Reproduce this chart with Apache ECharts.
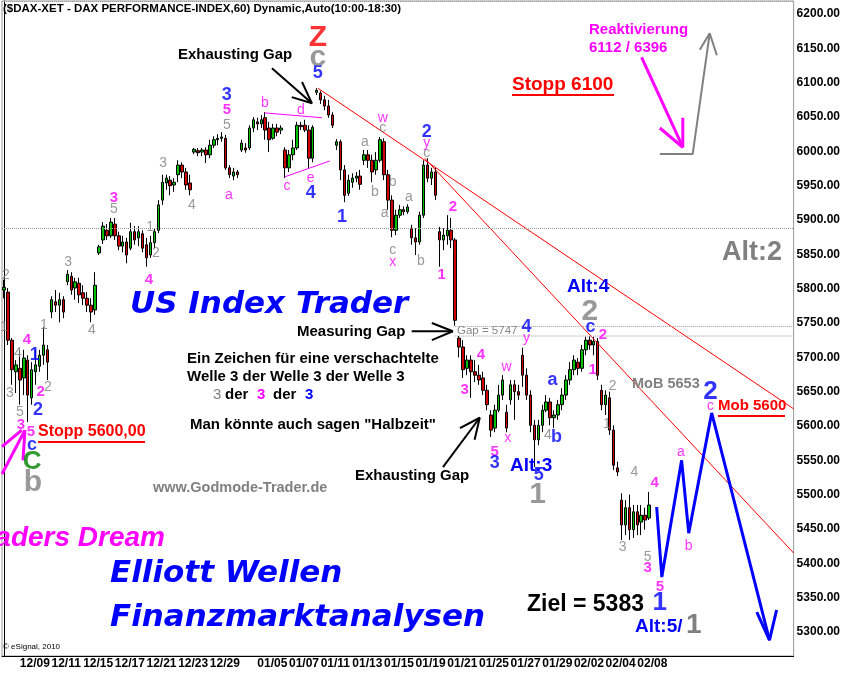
<!DOCTYPE html>
<html>
<head>
<meta charset="utf-8">
<script src="https://cdn.jsdelivr.net/npm/echarts@6/dist/echarts.min.js"></script>
<style>
html, body { margin: 0; padding: 0; background: #fff; }
#chart { width: 843px; height: 673px; }
</style>
</head>
<body>
<div id="chart"></div>
<script>
// trading days shown on the hourly chart (4 bars per day here)
var days = ['12/08','12/09','12/10','12/11','12/14','12/15','12/16','12/17','12/18','12/21','12/22','12/23','12/28','12/29','12/30',
  '01/04','01/05','01/06','01/07','01/08','01/11','01/12','01/13','01/14','01/15','01/18','01/19','01/20','01/21','01/22',
  '01/25','01/26','01/27','01/28','01/29','02/01','02/02','02/03','02/04','02/05','02/08'];
var dateLabels = ['12/09','12/11','12/15','12/17','12/21','12/23','12/29','01/05','01/07','01/11','01/13','01/15',
  '01/19','01/21','01/25','01/27','01/29','02/02','02/04','02/08'];
var yTicks = [5300,5350,5400,5450,5500,5550,5600,5650,5700,5750,5800,5850,5900,5950,6000,6050,6100,6150,6200];
var lastPrice = 5484.85;

// [open, close, low, high]
var bars = [
[5798,5802,5786,5813],[5795,5725,5718,5801],[5725,5682,5660,5728],[5679,5689,5648,5696],
[5684,5667,5631,5711],[5670,5699,5645,5711],[5696,5645,5606,5703],[5641,5682,5631,5693],
[5679,5689,5660,5711],[5687,5703,5679,5711],[5703,5718,5689,5744],[5711,5693,5667,5718],
[5766,5784,5757,5789],[5781,5776,5766,5798],[5776,5784,5751,5794],[5784,5766,5757,5789],
[5810,5821,5805,5827],[5818,5798,5791,5824],[5801,5810,5784,5816],[5808,5791,5779,5816],
[5794,5786,5776,5805],[5786,5776,5766,5795],[5776,5766,5751,5786],[5769,5805,5762,5824],
[5852,5861,5849,5864],[5871,5891,5865,5897],[5885,5877,5871,5894],[5877,5897,5874,5903],
[5894,5877,5871,5903],[5877,5862,5856,5883],[5862,5868,5853,5877],[5868,5849,5837,5874],
[5859,5883,5856,5896],[5883,5871,5864,5891],[5874,5883,5862,5891],[5880,5859,5853,5885],
[5864,5845,5832,5874],[5849,5867,5845,5877],[5867,5883,5859,5888],[5885,5922,5881,5929],
[5929,5955,5922,5966],[5954,5961,5944,5966],[5958,5950,5936,5964],[5951,5955,5941,5961],
[5966,5980,5955,5987],[5980,5970,5961,5984],[5970,5951,5944,5976],[5954,5944,5936,5966],
[5999,6003,5996,6005],[6001,5998,5993,6005],[5999,6002,5993,6005],[6002,5995,5983,6006],
[5995,6009,5990,6017],[6009,6017,6005,6022],[6017,6019,6009,6025],[6019,6021,6014,6028],
[6019,5976,5973,6024],[5976,5966,5961,5980],[5964,5970,5958,5976],[5970,5966,5961,5973],
[6002,6012,5999,6017],[6005,6002,5998,6012],[6005,6034,6002,6038],[6034,6046,6028,6050],
[6043,6040,6031,6049],[6040,6046,6034,6053],[6049,6031,6017,6057],[6034,6017,5999,6043],
[6019,6034,6017,6040],[6034,6028,6022,6040],[6031,6034,6025,6038],[6002,5976,5961,6006],
[5976,5995,5970,6002],[5995,6005,5987,6017],[6005,6038,6002,6043],[6038,6036,6031,6043],
[6038,6031,6028,6046],[6031,5990,5976,6038],[5990,6035,5984,6038],[6086,6089,6082,6092],
[6085,6075,6069,6088],[6075,6066,6060,6081],[6066,6053,6049,6075],[6053,6038,6034,6057],
[6009,6014,6002,6018],[6014,5973,5958,6017],[5973,5936,5926,5980],[5939,5958,5935,5966],
[5955,5961,5947,5968],[5961,5964,5955,5970],[5964,5952,5944,5973],[5987,5995,5980,6002],
[5995,5987,5976,6002],[5987,5970,5955,5995],[5973,5987,5966,5999],[5987,6017,5984,6021],
[6014,5966,5958,6019],[5966,5929,5915,5973],[5929,5885,5875,5936],[5885,5907,5878,5915],
[5907,5915,5903,5922],[5915,5912,5907,5920],[5912,5919,5909,5923],[5888,5874,5864,5893],
[5874,5868,5849,5888],[5868,5907,5864,5912],[5907,5980,5903,5987],[5980,5961,5955,5990],
[5961,5970,5951,5976],[5970,5936,5929,5976],[5883,5871,5832,5890],[5871,5878,5856,5888],
[5877,5885,5864,5907],[5885,5871,5859,5903],[5871,5754,5746,5874],[5728,5715,5700,5731],
[5715,5682,5670,5725],[5684,5696,5674,5703],[5696,5679,5641,5703],[5679,5674,5664,5696],
[5674,5667,5660,5689],[5670,5652,5645,5679],[5652,5631,5623,5660],[5616,5594,5584,5623],
[5597,5623,5591,5631],[5623,5645,5620,5660],[5645,5667,5638,5674],[5620,5597,5591,5631],
[5638,5660,5631,5667],[5660,5650,5609,5667],[5650,5645,5638,5660],[5703,5674,5657,5714],
[5674,5645,5638,5684],[5645,5601,5591,5652],[5601,5580,5540,5609],[5580,5601,5572,5609],
[5601,5623,5591,5631],[5623,5635,5620,5645],[5635,5612,5601,5641],[5612,5616,5597,5623],
[5616,5631,5609,5638],[5631,5645,5623,5655],[5645,5667,5638,5674],[5667,5682,5660,5693],
[5682,5696,5674,5703],[5693,5684,5674,5699],[5684,5711,5679,5718],[5711,5725,5703,5730],
[5725,5718,5711,5731],[5718,5723,5703,5730],[5723,5674,5667,5728],[5652,5631,5623,5660],
[5631,5645,5616,5652],[5641,5594,5587,5650],[5594,5543,5536,5601],[5539,5533,5527,5548],
[5492,5456,5434,5502],[5456,5481,5441,5492],[5481,5449,5434,5500],[5449,5475,5437,5485],
[5475,5456,5441,5485],[5460,5470,5441,5485],[5470,5463,5449,5481],[5466,5484.85,5463,5504]
];

// wave labels: [bar index, price, text]
var grayLabels = [[0.5,5820,'2'],[0,5744,'1'],[1.5,5648,'3'],[3.5,5706,'4'],[4,5620,'5'],[10.1,5747,'1'],
  [11.1,5657,'2'],[16.2,5839,'3'],[22.2,5740,'4'],[27.8,5916,'5'],[36.9,5890,'1'],[38.4,5852,'2'],
  [40.2,5983,'3'],[47.5,5922,'4'],[56.3,6038,'5'],[91.2,6014,'a'],[93.7,5941,'b'],[95.7,6034,'c'],
  [98.2,5955,'b'],[96.2,5910,'a'],[98.2,5856,'c'],[102.3,5933,'a'],[105.3,5840,'b'],[106.8,5998,'c'],
  [137.4,5587,'4'],[153.8,5658,'2'],[152.3,5603,'1'],[159.3,5533,'4'],[156.3,5424,'3'],[162.6,5409,'5']];
var magentaDigits = [[5.8,5725,'4'],[4.3,5601,'3'],[6.8,5591,'5'],[9.3,5650,'2'],[27.8,5933,'3'],
  [36.6,5813,'4'],[56.3,6060,'5'],[113.4,5919,'2'],[110.6,5820,'1'],[116.4,5652,'3'],[120.5,5703,'4'],
  [124,5562,'5'],[148.7,5682,'1'],[151.3,5733,'2'],[164.4,5517,'4'],[162.6,5393,'3'],[165.7,5366,'5']];
var magentaLetters = [[56.8,5936,'a'],[65.9,6070,'b'],[71.5,5950,'c'],[75,6060,'d'],[77.5,5961,'e'],
  [95.7,6049,'w'],[106.8,6012,'y'],[98.2,5839,'x'],[127,5686,'w'],[127.3,5583,'x'],[132,5728,'y'],
  [171,5562,'a'],[173,5425,'b'],[178.5,5629,'c']];
var blueLabels = [[7.8,5703,'1'],[8.6,5623,'2'],[7.1,5572,'c'],[56.3,6082,'3'],[79.3,6114,'5'],
  [77.5,5939,'4'],[85.4,5904,'1'],[106.8,6028,'2'],[124,5546,'3'],[132,5744,'4'],[135.1,5529,'5'],
  [138.6,5667,'a'],[139.6,5584,'b'],[148.2,5744,'c']];
var blueBig = [[178.5,5650,'2'],[165.7,5342,'1']];
var grayBig = [[79.3,6137,'c'],[7.3,5517,'b'],[148,5766,'2'],[134.8,5500,'1']];
var redBig = [[79.3,6165,'Z']];
var greenBig = [[7.1,5548,'C']];

// drawn lines: [bar index, price]
var trendA = [[79.3,6092],[199.5,5625]];
var trendB = [[106.3,5990],[199.5,5415]];
var triUpper = [[65.9,6056],[80.3,6049]];
var triLower = [[71,5963],[82.3,5986]];
var gapTop = [[113.9,5745],[199.5,5745]];
var gapBottom = [[113.9,5731],[199.5,5731]];
var projection = [[164.9,5482],[166.2,5380],[171.2,5550],[173,5444],[178.8,5619],[193.4,5288]];
var projHead = [[190.2,5329],[193.4,5288],[195.2,5332]];
var arrowTop = [[67.7,6121],[77.8,6070]];
var arrowTopHead = [[75.3,6101],[77.8,6070],[72.7,6079]];
var arrowMid = [[103,5738],[113.4,5738]];
var arrowMidHead = [[108.1,5750],[113.4,5738],[108.1,5725]];
var arrowLow = [[110.9,5540],[120.2,5612]];
var arrowLowHead = [[115.2,5597],[120.2,5612],[118.9,5580]];
var pinkLeft1 = [[-0.5,5570],[4.5,5594]];
var pinkLeft2 = [[-0.5,5530],[5.3,5594]];
var pinkLeft3 = [[4.8,5550],[5.3,5594]];
var pinkTR = [[161.1,6137],[171.5,6006]];
var pinkTRHead = [[165.7,6034],[171.5,6006],[171.5,6049]];
var grayUp = [[165.7,5996],[174,5996],[178.3,6172]];
var grayUpHead = [[175.8,6148],[178.3,6172],[180.1,6140]];

var FONT = '"Liberation Sans", Arial, sans-serif';
var TAIL = 36;

var cats = [];
days.forEach(function (d) { for (var k = 0; k < 4; k++) cats.push(d + '|' + k); });
for (var t = 0; t < TAIL; t++) cats.push('f|' + t);
var NCAT = cats.length;

function textSeries(data, color, size, weight) {
  return {
    type: 'scatter', xAxisIndex: 1, yAxisIndex: 0, data: data, silent: true, z: 6,
    symbolSize: 1, itemStyle: { color: 'rgba(0,0,0,0)' },
    label: {
      show: true, position: 'inside', color: color, fontSize: size, fontWeight: weight, fontFamily: FONT,
      formatter: function (p) { return p.data[2]; }
    }
  };
}
function lineSeries(pts, color, width, type) {
  return {
    type: 'line', xAxisIndex: 1, yAxisIndex: 0, data: pts, symbol: 'none', silent: true, z: 4,
    lineStyle: { color: color, width: width, type: type || 'solid' }
  };
}
function txt(x, y, text, font, fill, align) {
  return {
    type: 'text', x: x, y: y, z: 100, silent: true,
    style: { text: text, font: font, fill: fill, align: align || 'left', textAlign: align || 'left',
      verticalAlign: 'middle', textVerticalAlign: 'middle' }
  };
}
function uline(x1, x2, y, color) {
  return { type: 'line', z: 100, silent: true, shape: { x1: x1, y1: y, x2: x2, y2: y },
    style: { stroke: color, lineWidth: 2 } };
}

var B = function (s) { return 'bold ' + s + 'px ' + FONT; };
var BIG = function (s) { return 'italic bold ' + s + 'px "DejaVu Sans", sans-serif'; };

var chart = echarts.init(document.getElementById('chart'));
chart.setOption({
  animation: false,
  backgroundColor: '#fff',
  grid: { left: 2, right: 49, top: 1, bottom: 17, show: true, borderColor: '#999', borderWidth: 1 },
  xAxis: [
    {
      type: 'category', data: cats, boundaryGap: true,
      axisLine: { show: true, lineStyle: { color: '#000', width: 1 } },
      axisTick: { show: false },
      splitLine: { show: false },
      axisLabel: {
        margin: 2, align: 'left', color: '#000', fontWeight: 'bold', fontSize: 12, fontFamily: FONT,
        interval: function (i, v) {
          var p = v.split('|');
          return p[1] === '0' && dateLabels.indexOf(p[0]) >= 0;
        },
        formatter: function (v) { return v.split('|')[0]; }
      }
    },
    { type: 'value', min: -0.5, max: NCAT - 0.5, show: false }
  ],
  yAxis: [{
    type: 'value', position: 'right', min: 5265, max: 6219,
    axisLine: { show: true, lineStyle: { color: '#000', width: 1 } },
    axisTick: { show: false },
    splitLine: { show: false },
    axisLabel: {
      customValues: yTicks, margin: 3, color: '#000', fontWeight: 'bold', fontSize: 12, fontFamily: FONT,
      formatter: function (v) { return v.toFixed(2); }
    }
  }],
  series: [
    {
      type: 'candlestick', data: bars, barWidth: 3, z: 3,
      itemStyle: { color: '#00c000', color0: '#d00000', borderColor: '#000', borderColor0: '#000', borderWidth: 1 },
      markLine: {
        silent: true, symbol: 'none', animation: false,
        data: [
          { yAxis: 5888, lineStyle: { color: '#999', type: 'dotted', width: 1 }, label: { show: false } },
          { yAxis: 6218, lineStyle: { color: '#999', type: 'dotted', width: 1 }, label: { show: false } },
          {
            yAxis: lastPrice, lineStyle: { opacity: 0 },
            label: {
              show: true, position: 'end', distance: 1, formatter: lastPrice.toFixed(2),
              backgroundColor: '#ff0000', color: '#fff', fontWeight: 'bold', fontSize: 12,
              fontFamily: FONT, padding: [1, 2, 1, 2]
            }
          }
        ]
      }
    },
    lineSeries(trendA, '#ff0000', 1),
    lineSeries(trendB, '#ff0000', 1),
    lineSeries(triUpper, '#ff00ff', 1),
    lineSeries(triLower, '#ff00ff', 1),
    lineSeries(gapTop, '#999', 1, 'dotted'),
    lineSeries(gapBottom, '#999', 1, 'dotted'),
    lineSeries(projection, '#0000ff', 3),
    lineSeries(projHead, '#0000ff', 3),
    lineSeries(arrowTop, '#000', 2),
    lineSeries(arrowTopHead, '#000', 2),
    lineSeries(arrowMid, '#000', 2),
    lineSeries(arrowMidHead, '#000', 2),
    lineSeries(arrowLow, '#000', 2),
    lineSeries(arrowLowHead, '#000', 2),
    lineSeries(pinkLeft1, '#ff00ff', 3),
    lineSeries(pinkLeft2, '#ff00ff', 3),
    lineSeries(pinkLeft3, '#ff00ff', 3),
    lineSeries(pinkTR, '#ff00ff', 3),
    lineSeries(pinkTRHead, '#ff00ff', 3),
    lineSeries(grayUp, '#808080', 2),
    lineSeries(grayUpHead, '#808080', 2),
    textSeries(grayLabels, '#808080', 14, 'normal'),
    textSeries(magentaDigits, '#ff00ff', 15, 'bold'),
    textSeries(magentaLetters, '#ff00ff', 14, 'normal'),
    textSeries(blueLabels, '#0000ff', 18, 'bold'),
    textSeries(blueBig, '#0000ff', 26, 'bold'),
    textSeries(grayBig, '#808080', 30, 'bold'),
    textSeries(redBig, '#ff0000', 30, 'bold'),
    textSeries(greenBig, '#008000', 26, 'bold')
  ],
  graphic: [
    txt(3, 9, '($DAX-XET - DAX PERFORMANCE-INDEX,60) Dynamic,Auto(10:00-18:30)', B(11.5), '#000'),
    txt(178, 55, 'Exhausting Gap', B(15), '#000'),
    txt(512, 85, 'Stopp 6100', B(19), '#ff0000'),
    uline(512, 614, 95, '#ff0000'),
    txt(589, 30, 'Reaktivierung', B(15), '#ff00ff'),
    txt(589, 48, '6112 / 6396', B(15), '#ff00ff'),
    txt(722, 253, 'Alt:2', B(27), '#808080'),
    txt(130, 305, 'US Index Trader', BIG(31), '#0000ff'),
    txt(297, 332, 'Measuring Gap', B(15), '#000'),
    txt(457, 331, 'Gap = 5747', '11.5px ' + FONT, '#888'),
    txt(567, 287, 'Alt:4', B(19), '#0000ff'),
    txt(187, 359, 'Ein Zeichen für eine verschachtelte', B(15), '#000'),
    txt(187, 377, 'Welle 3 der Welle 3 der Welle 3', B(15), '#000'),
    txt(213, 395, '3', '15px ' + FONT, '#808080'),
    txt(225, 395, 'der', B(15), '#000'),
    txt(257, 395, '3', B(15), '#ff00ff'),
    txt(273, 395, 'der', B(15), '#000'),
    txt(305, 395, '3', B(15), '#0000ff'),
    txt(190, 425, 'Man könnte auch sagen "Halbzeit"', B(15), '#000'),
    txt(38, 432, 'Stopp 5600,00', B(16), '#ff0000'),
    uline(38, 145, 442, '#ff0000'),
    txt(355, 476, 'Exhausting Gap', B(15), '#000'),
    txt(153, 488, 'www.Godmode-Trader.de', B(14.5), '#808080'),
    txt(632, 384, 'MoB 5653', B(14.5), '#808080'),
    txt(718, 406, 'Mob 5600', B(15), '#ff0000'),
    uline(718, 785, 416, '#ff0000'),
    txt(510, 466, 'Alt:3', B(19), '#0000ff'),
    txt(165, 538, 'Traders Dream', 'italic bold 28px ' + FONT, '#ff00ff', 'right'),
    txt(110, 574, 'Elliott Wellen', BIG(31), '#0000ff'),
    txt(110, 618, 'Finanzmarktanalysen', BIG(31), '#0000ff'),
    txt(527, 605, 'Ziel = 5383', B(23), '#000'),
    txt(635, 627, 'Alt:5/', B(19), '#0000ff'),
    txt(686, 625, '1', B(28), '#808080'),
    txt(3, 647, '© eSignal, 2010', '8px ' + FONT, '#000')
  ]
});
</script>
</body>
</html>
